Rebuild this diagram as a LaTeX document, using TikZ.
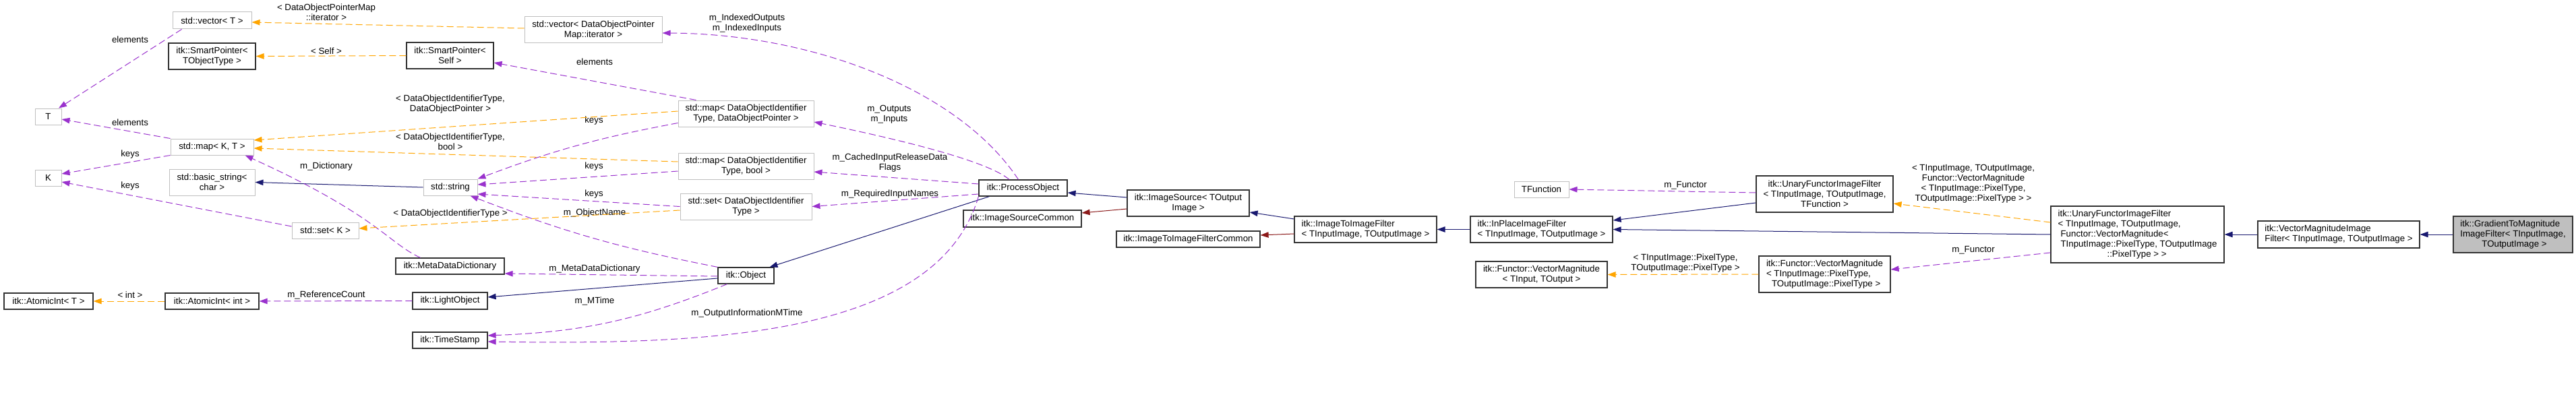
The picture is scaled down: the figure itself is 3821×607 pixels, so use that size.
\documentclass[tikz,border=0pt]{standalone}
\usepackage{fontspec}
\setmainfont{Liberation Sans}
\usetikzlibrary{arrows.meta}

\definecolor{navyedge}{HTML}{191970}
\definecolor{orchidedge}{HTML}{9A32CD}
\definecolor{orangeedge}{HTML}{FFA500}
\definecolor{brickedge}{HTML}{8B1A1A}
\definecolor{grayline}{HTML}{BFBFBF}

\begin{document}
\begin{tikzpicture}[x=1pt, y=-1pt, >={Triangle[length=12pt,width=8.5pt]},
    font=\fontsize{13.3}{15}\selectfont,
    box/.style={draw, rectangle, inner sep=0pt, align=center},
    cls/.style={box, line width=1.2pt, draw=black!80},
    ext/.style={box, line width=1pt, draw=grayline},
    cur/.style={cls, fill=grayline},
    lbl/.style={inner sep=0pt, align=center},
    inh/.style={draw=navyedge, line width=1pt, ->},
    prot/.style={draw=brickedge, line width=1pt, ->},
    mem/.style={draw=orchidedge, line width=1pt, dash pattern=on 10pt off 5pt, ->},
    tmpl/.style={draw=orangeedge, line width=1pt, dash pattern=on 10pt off 5pt, ->}]
\useasboundingbox (0,0) rectangle (3821,607);
% Template parameters and std containers
\node[ext, minimum width=39, minimum height=24] (T) at (71.5,173) {T};
\node[ext, minimum width=39, minimum height=24] (K) at (71.5,264) {K};
\node[cls, minimum width=132, minimum height=24] (atomicT) at (72,447) {itk::AtomicInt< T >};
\node[ext, minimum width=117, minimum height=25] (vecT) at (314.5,30.5) {std::vector< T >};
\node[cls, minimum width=129, minimum height=39] (spTObj) at (314.5,83.5) {itk::SmartPointer<\\TObjectType >};
\node[ext, minimum width=123, minimum height=24] (mapKT) at (314.5,218) {std::map< K, T >};
\node[ext, minimum width=127, minimum height=39] (bstr) at (314.5,270.5) {std::basic\_string<\\char >};
\node[cls, minimum width=139, minimum height=24] (atomicInt) at (314.5,447) {itk::AtomicInt< int >};
\node[ext, minimum width=99, minimum height=24] (setK) at (482.5,342) {std::set< K >};
% Object members
\node[cls, minimum width=129, minimum height=39] (spSelf) at (667.5,82.5) {itk::SmartPointer<\\Self >};
\node[ext, minimum width=80, minimum height=24] (str) at (668,278) {std::string};
\node[cls, minimum width=161, minimum height=24] (mdd) at (667.5,395) {itk::MetaDataDictionary};
\node[cls, minimum width=111, minimum height=25] (light) at (667.5,446.5) {itk::LightObject};
\node[cls, minimum width=111, minimum height=24] (tstamp) at (667.5,505) {itk::TimeStamp};
\node[ext, minimum width=204, minimum height=39] (vecIt) at (880,44.5) {std::vector< DataObjectPointer\\Map::iterator >};
\node[ext, minimum width=201, minimum height=39] (mapDOP) at (1106.5,168.5) {std::map< DataObjectIdentifier\\Type, DataObjectPointer >};
\node[ext, minimum width=201, minimum height=39] (mapBool) at (1106.5,246.5) {std::map< DataObjectIdentifier\\Type, bool >};
\node[ext, minimum width=195, minimum height=39] (setDOI) at (1106.5,306.5) {std::set< DataObjectIdentifier\\Type >};
\node[cls, minimum width=83, minimum height=24] (obj) at (1106.5,409) {itk::Object};
% Pipeline classes
\node[cls, minimum width=131, minimum height=24] (proc) at (1517.5,279) {itk::ProcessObject};
\node[cls, minimum width=175, minimum height=25] (isc) at (1516.5,324.5) {itk::ImageSourceCommon};
\node[cls, minimum width=181, minimum height=39] (isrc) at (1762.5,301.5) {itk::ImageSource< TOutput\\Image >};
\node[cls, minimum width=213, minimum height=24] (i2ic) at (1762.5,355) {itk::ImageToImageFilterCommon};
\node[cls, minimum width=211, minimum height=39, align=left] (i2i) at (2025.5,340.5) {itk::ImageToImageFilter\\< TInputImage, TOutputImage >};
\node[cls, minimum width=211, minimum height=39, align=left] (inplace) at (2286.5,340.5) {itk::InPlaceImageFilter\\< TInputImage, TOutputImage >};
\node[ext, minimum width=81, minimum height=24] (tfunc) at (2286.5,281) {TFunction};
\node[cls, minimum width=195, minimum height=39] (vmTT) at (2286.5,407.5) {itk::Functor::VectorMagnitude\\< TInput, TOutput >};
\node[cls, minimum width=203, minimum height=54] (ufTF) at (2706.5,288) {itk::UnaryFunctorImageFilter\\< TInputImage, TOutputImage,\\TFunction >};
\node[cls, minimum width=195, minimum height=54, align=left] (vmPix) at (2706.5,407) {itk::Functor::VectorMagnitude\\< TInputImage::PixelType,\\\hspace*{8pt}TOutputImage::PixelType >};
\node[cls, minimum width=257, minimum height=84, align=left] (ufVM) at (3170.5,348) {itk::UnaryFunctorImageFilter\\< TInputImage, TOutputImage,\\\hspace*{4pt}Functor::VectorMagnitude<\\\hspace*{4pt}TInputImage::PixelType, TOutputImage\\\hspace*{73pt}::PixelType > >};
\node[cls, minimum width=240, minimum height=40, align=left] (vmif) at (3469,348) {itk::VectorMagnitudeImage\\Filter< TInputImage, TOutputImage >};
\node[cur, minimum width=177, minimum height=54, align=left] (grad) at (3727.5,348) {itk::GradientToMagnitude\\ImageFilter< TInputImage,\\\hspace*{32pt}TOutputImage >};
% Inheritance
\draw[inh] (grad.west) -- (vmif.east);
\draw[inh] (vmif.west) -- (ufVM.east);
\draw[inh] (ufVM.west) -- (inplace.east);
\draw[inh] ([yshift=-13pt]ufTF.west) -- ([yshift=13.5pt]inplace.east);
\draw[inh] (inplace.west) -- (i2i.east);
\draw[inh] ([yshift=15.5pt]i2i.west) -- ([yshift=-13.5pt]isrc.east);
\draw[prot] ([yshift=-6.5pt]i2i.west) -- ([yshift=6pt]i2ic.east);
\draw[inh] ([yshift=8.5pt]isrc.west) -- ([yshift=-7pt]proc.east);
\draw[prot] ([yshift=-8.5pt]isrc.west) -- ([yshift=8.5pt]isc.east);
\draw[inh] ([xshift=-50pt]proc.south) -- ([xshift=35pt]obj.north);
\draw[inh] ([yshift=-4pt]obj.west) -- ([yshift=5.5pt]light.east);
\draw[inh] (str.west) -- (bstr.east);
% Members of ProcessObject
\draw[mem] ([xshift=-7pt]proc.north) .. controls (1420,130) and (1200,50) .. ([yshift=-4.5pt]vecIt.east);
\node[lbl] (lIdx) at (1108,34.5) {m\_IndexedOutputs\\m\_IndexedInputs};
\draw[mem] ([xshift=-20.5pt]proc.north) .. controls (1460,235) and (1300,200) .. ([yshift=-12.5pt]mapDOP.east);
\node[lbl] (lOut) at (1319,170) {m\_Outputs\\m\_Inputs};
\draw[mem] ([yshift=6pt]proc.west) -- ([yshift=-8.5pt]mapBool.east);
\node[lbl] (lCached) at (1320,242) {m\_CachedInputReleaseData\\Flags};
\draw[mem] ([yshift=-9pt]proc.west) -- (setDOI.east);
\node[lbl] (lReq) at (1320,288) {m\_RequiredInputNames};
\draw[mem] (proc.south west) .. controls (1390,500) and (1050,512) .. ([yshift=-2pt]tstamp.east);
\node[lbl] (lOIMT) at (1108,465) {m\_OutputInformationMTime};
% Members of Object
\draw[mem] (obj.north west) to[bend left=5] ([xshift=-11pt]str.south east);
\node[lbl] (lName) at (882,316) {m\_ObjectName};
\draw[mem] ([yshift=-1pt]obj.west) -- ([yshift=-11pt]mdd.east);
\node[lbl] (lMDD) at (882,399) {m\_MetaDataDictionary};
\draw[mem] ([xshift=-28pt]obj.south) to[bend left=10] ([yshift=7pt]tstamp.east);
\node[lbl] (lMTime) at (882,447) {m\_MTime};
\draw[mem] (light.west) -- (atomicInt.east);
\node[lbl] (lRef) at (484,438) {m\_ReferenceCount};
\draw[mem] ([xshift=-44pt]mdd.north) .. controls (575,360) and (560,320) .. ([xshift=-13pt]mapKT.south east);
\node[lbl] (lDict) at (484,247) {m\_Dictionary};
% Container members
\draw[mem] ([xshift=27pt]mapDOP.north west) -- ([yshift=-10.5pt]spSelf.east);
\node[lbl] (lElemSP) at (882,92) {elements};
\draw[mem] ([yshift=-14pt]mapDOP.west) to[bend right=5] (str.north east);
\node[lbl] (lKeys3) at (881,179) {keys};
\draw[mem] ([yshift=-7.5pt]mapBool.west) -- ([yshift=4pt]str.east);
\node[lbl] (lKeys4) at (881,247) {keys};
\draw[mem] (setDOI.west) -- ([yshift=-10pt]str.east);
\node[lbl] (lKeys5) at (881,288) {keys};
\draw[mem] ([xshift=14pt]vecT.south west) -- ([xshift=15.5pt]T.north);
\node[lbl] (lElemT1) at (193,59) {elements};
\draw[mem] (mapKT.north west) -- ([yshift=-4pt]T.east);
\node[lbl] (lElemT2) at (193,182) {elements};
\draw[mem] (mapKT.south west) -- ([yshift=6pt]K.east);
\node[lbl] (lKeys1) at (193,229) {keys};
\draw[mem] ([yshift=6pt]setK.west) -- ([yshift=-6pt]K.east);
\node[lbl] (lKeys2) at (193,276) {keys};
% Template instances
\draw[tmpl] ([yshift=2.5pt]vecIt.west) -- ([yshift=-2.5pt]vecT.east);
\node[lbl] (lIter) at (484,18.5) {< DataObjectPointerMap\\::iterator >};
\draw[tmpl] (spSelf.west) -- (spTObj.east);
\node[lbl] (lSelf) at (484,76) {< Self >};
\draw[tmpl] ([yshift=3.5pt]mapDOP.west) -- ([yshift=10pt]mapKT.east);
\node[lbl] (lDOP) at (668,155) {< DataObjectIdentifierType,\\DataObjectPointer >};
\draw[tmpl] ([yshift=6.5pt]mapBool.west) -- ([yshift=-2pt]mapKT.east);
\node[lbl] (lBool) at (668,210) {< DataObjectIdentifierType,\\bool >};
\draw[tmpl] ([yshift=-5.5pt]setDOI.west) -- ([yshift=3pt]setK.east);
\node[lbl] (lSetDOI) at (668,317) {< DataObjectIdentifierType >};
\draw[tmpl] (atomicInt.west) -- (atomicT.east);
\node[lbl] (lInt) at (193,438) {< int >};
% Functor side
\draw[mem] ([yshift=2pt]ufTF.west) -- (tfunc.east);
\node[lbl] (lFunc1) at (2500,275) {m\_Functor};
\draw[tmpl] (vmPix.west) -- (vmTT.east);
\node[lbl] (lPix) at (2500,391) {< TInputImage::PixelType,\\TOutputImage::PixelType >};
\draw[tmpl] ([yshift=18pt]ufVM.west) -- ([yshift=-14pt]ufTF.east);
\node[lbl] (lUF) at (2927,273) {< TInputImage, TOutputImage,\\Functor::VectorMagnitude\\< TInputImage::PixelType,\\TOutputImage::PixelType > >};
\draw[mem] ([yshift=-27pt]ufVM.west) -- ([yshift=7pt]vmPix.east);
\node[lbl] (lFunc2) at (2927,371) {m\_Functor};
\end{tikzpicture}
\end{document}
